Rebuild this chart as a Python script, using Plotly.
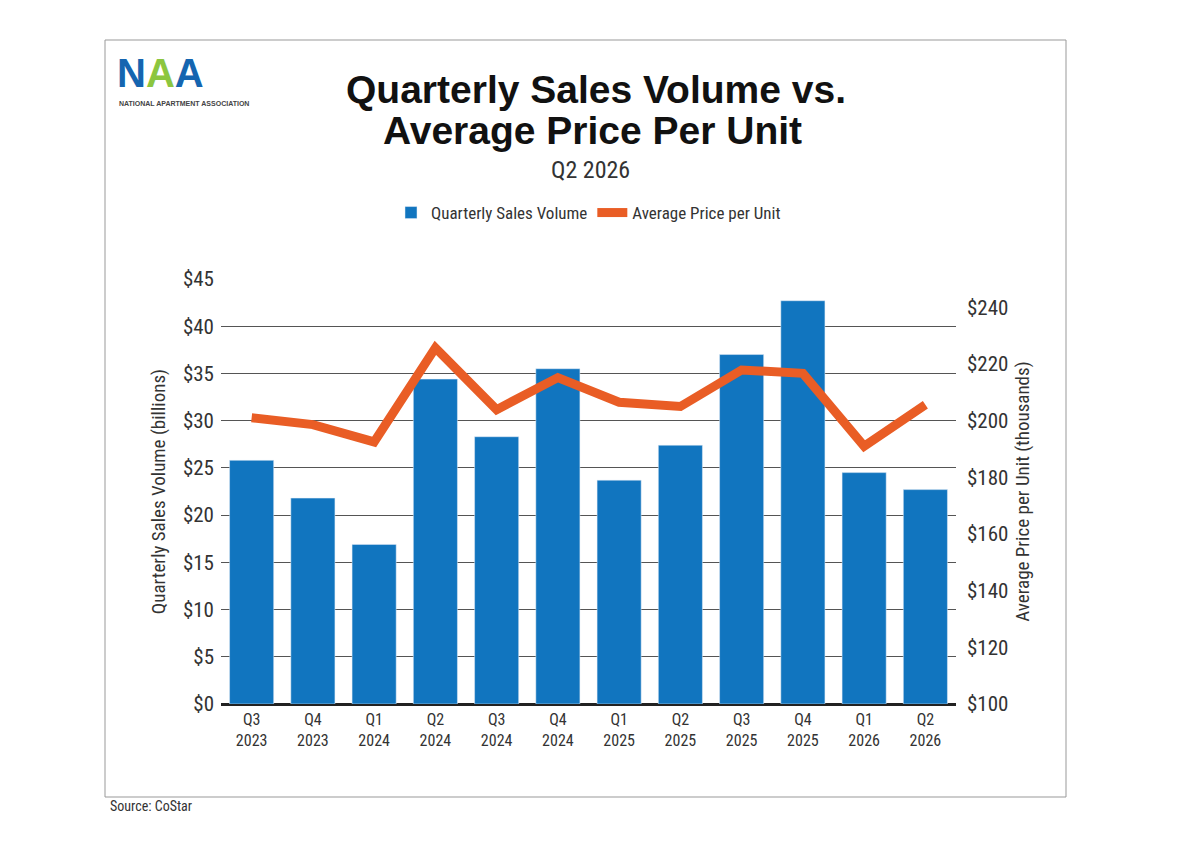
import plotly.graph_objects as go

quarters = ["Q3<br>2023","Q4<br>2023","Q1<br>2024","Q2<br>2024","Q3<br>2024","Q4<br>2024",
            "Q1<br>2025","Q2<br>2025","Q3<br>2025","Q4<br>2025","Q1<br>2026","Q2<br>2026"]
sales_volume = [25.8, 21.8, 16.9, 34.4, 28.3, 35.5, 23.7, 27.4, 37.0, 42.7, 24.5, 22.7]
avg_price = [201.0, 198.6, 192.5, 225.7, 203.9, 215.2, 206.5, 205.0, 217.9, 216.7, 191.0, 205.6]
left_ticks = [0,5,10,15,20,25,30,35,40,45]
right_ticks = [100,120,140,160,180,200,220,240]

F = "Roboto Condensed, Liberation Sans Narrow, Roboto, sans-serif"
L, R, T, B = 213, 230, 271, 156
fig = go.Figure()
fig.add_bar(x=quarters, y=sales_volume, name="Quarterly Sales Volume", marker_color="#1175bf",
            yaxis="y")
fig.add_scatter(x=quarters, y=avg_price, name="Average Price per Unit", mode="lines",
                line=dict(color="#e95d25", width=9), yaxis="y2")

pw = 1178-L-R; ph = 852-T-B
def px(x): return (x-8-L)/pw
def py(y): return (852-B-(y-8))/ph

fig.update_layout(
    width=1178, height=852, paper_bgcolor="white", plot_bgcolor="white",
    margin=dict(l=L, r=R, t=T, b=B),
    bargap=0.28, showlegend=True,
    font=dict(family=F, color="#333", size=18),
    legend=dict(orientation="h", x=0.5, xanchor="center", y=py(213), yanchor="middle",
                font=dict(size=17, color="#333"), itemwidth=30, tracegroupgap=30),
    xaxis=dict(showline=False, ticks="", tickfont=dict(size=16, color="#333"), domain=[0,1],
               ticklabelstandoff=4),
    yaxis=dict(range=[0,45], tickvals=left_ticks, ticktext=[f"${v}" for v in left_ticks],
               showgrid=True, gridcolor="#555", gridwidth=1, zeroline=True, zerolinecolor="#222",
               zerolinewidth=3, tickfont=dict(size=21), ticks="", ticklen=0, ticklabelstandoff=6,
               title=dict(text="Quarterly Sales Volume (billions)", font=dict(size=19), standoff=12)),
    yaxis2=dict(range=[100,250], overlaying="y", side="right", tickvals=right_ticks,
                ticktext=[f"${v}" for v in right_ticks], showgrid=False, zeroline=False,
                tickfont=dict(size=21), ticklabelstandoff=10,
                title=dict(text="Average Price per Unit (thousands)", font=dict(size=19), standoff=8)),
)
fig.layout.shapes = [dict(type="rect", xref="paper", yref="paper", x0=px(105), x1=px(1066),
                          y0=py(797), y1=py(40), line=dict(color="#999", width=1))]
def ann(x, y, text, size, family=None, color="#333", xanchor="center"):
    f = dict(size=size, color=color)
    if family: f["family"] = family
    fig.add_annotation(xref="paper", yref="paper", x=px(x), y=py(y), text=text, xanchor=xanchor,
                       yanchor="middle", showarrow=False, font=f)
ann(596, 90, "<b>Quarterly Sales Volume vs.</b>", 39, "Liberation Sans, sans-serif", "#111")
ann(592, 130, "<b>Average Price Per Unit</b>", 39, "Liberation Sans, sans-serif", "#111")
ann(590, 170, "Q2 2026", 24)
ann(108, 806, "Source: CoStar", 14, xanchor="left")
ann(115, 73, "<b><span style='color:#1565b0'>N</span><span style='color:#8cc63f'>A</span><span style='color:#1565b0'>A</span></b>",
    40, "Liberation Sans, sans-serif", xanchor="left")
ann(117, 103, "<b>NATIONAL APARTMENT ASSOCIATION</b>", 7, "Liberation Sans Narrow, sans-serif", "#444", "left")
fig.write_html("out.html")
